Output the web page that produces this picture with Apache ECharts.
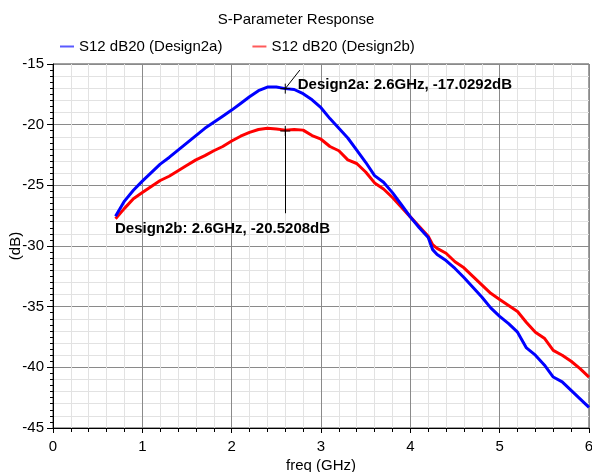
<!DOCTYPE html>
<html>
<head>
<meta charset="utf-8">
<script src="https://cdn.jsdelivr.net/npm/echarts@6/dist/echarts.min.js"></script>
<style>html,body{margin:0;padding:0;background:#fff}#c{width:592px;height:472px}</style>
</head>
<body>
<div id="c"></div>
<script>
const freq = [0.7,0.8,0.9,1.0,1.1,1.2,1.3,1.4,1.5,1.6,1.7,1.8,1.9,2.0,2.1,2.2,2.3,2.4,2.5,2.6,2.7,2.8,2.9,3.0,3.1,3.2,3.3,3.4,3.5,3.6,3.7,3.8,3.9,4.0,4.1,4.2,4.25,4.3,4.4,4.5,4.6,4.7,4.8,4.9,5.0,5.1,5.2,5.3,5.4,5.5,5.6,5.7,5.8,5.9,6.0];
const design2a = [-27.55,-26.3,-25.4,-24.65,-23.95,-23.25,-22.7,-22.1,-21.5,-20.9,-20.3,-19.8,-19.3,-18.8,-18.25,-17.7,-17.2,-16.9,-16.9,-17.03,-17.1,-17.45,-17.95,-18.6,-19.5,-20.3,-21.1,-22.1,-23.1,-24.2,-24.75,-25.6,-26.6,-27.6,-28.5,-29.3,-30.3,-30.7,-31.2,-31.85,-32.6,-33.4,-34.2,-35.1,-35.8,-36.4,-37.1,-38.4,-39.0,-39.8,-40.8,-41.2,-41.9,-42.6,-43.3];
const design2b = [-27.75,-26.9,-26.1,-25.6,-25.1,-24.6,-24.25,-23.8,-23.35,-22.9,-22.55,-22.15,-21.8,-21.35,-20.95,-20.63,-20.4,-20.3,-20.35,-20.45,-20.4,-20.45,-20.9,-21.2,-21.8,-22.15,-22.9,-23.2,-23.9,-24.8,-25.3,-26.0,-26.8,-27.6,-28.4,-29.2,-29.9,-30.2,-30.6,-31.3,-31.8,-32.5,-33.2,-33.9,-34.4,-34.9,-35.4,-36.3,-37.1,-37.6,-38.6,-39.0,-39.5,-40.1,-40.8];
const xTicks = [0,1,2,3,4,5,6];
const yTicks = [-45,-40,-35,-30,-25,-20,-15];
const seriesNames = ['S12 dB20 (Design2a)','S12 dB20 (Design2b)'];
const markerFreq = 2.6;
const markerA = -17.0292;
const markerB = -20.5208;

const FONT = 'Liberation Sans, Arial, sans-serif';
const pairs = (ys) => freq.map((f, i) => [f, ys[i]]);
const cross = 'path://M0,5L10,5M5,0L5,10';

const chart = echarts.init(document.getElementById('c'), null, {renderer: 'canvas'});
chart.setOption({
  animation: false,
  backgroundColor: '#fff',
  textStyle: {fontFamily: FONT},
  title: {
    text: 'S-Parameter Response', left: 'center', top: 7,
    textStyle: {fontFamily: FONT, fontSize: 15, fontWeight: 'normal', color: '#000'}
  },
  legend: {
    left: 55, top: 34, itemGap: 30, itemWidth: 14, itemHeight: 2,
    icon: 'rect',
    textStyle: {fontFamily: FONT, fontSize: 15, color: '#000'},
    data: [
      {name: seriesNames[0], itemStyle: {color: '#5a5aff'}},
      {name: seriesNames[1], itemStyle: {color: '#ff5a5a'}}
    ]
  },
  grid: {left: 53, right: 3, top: 64, bottom: 44, show: true, borderColor: '#404040', borderWidth: 1,
    outerBoundsMode: 'none', containLabel: false},
  xAxis: [{
    type: 'value', min: 0, max: 6, interval: 1,
    name: 'freq (GHz)', nameLocation: 'middle', nameGap: 30, nameMoveOverlap: false,
    nameTextStyle: {fontFamily: FONT, fontSize: 15, color: '#000'},
    axisLine: {show: true, lineStyle: {color: '#000', width: 1}},
    axisTick: {show: true, length: 5, lineStyle: {color: '#000'}},
    minorTick: {show: true, splitNumber: 5, length: 4, lineStyle: {color: '#000'}},
    axisLabel: {fontFamily: FONT, fontSize: 15, color: '#000', margin: 11,
      formatter: v => xTicks.includes(v) ? String(v) : ''},
    splitLine: {show: true, lineStyle: {color: '#8a8a8a', width: 1}},
    minorSplitLine: {show: true, lineStyle: {color: '#e2e2e2', width: 1}}
  }],
  yAxis: [{
    type: 'value', min: -45, max: -15, interval: 5,
    name: '(dB)', nameLocation: 'middle', nameGap: 30, nameRotate: 90, nameMoveOverlap: false,
    nameTextStyle: {fontFamily: FONT, fontSize: 15, color: '#000'},
    axisLine: {show: true, lineStyle: {color: '#000', width: 1}},
    axisTick: {show: true, length: 6, lineStyle: {color: '#000'}},
    minorTick: {show: false, splitNumber: 5},
    axisLabel: {fontFamily: FONT, fontSize: 15, color: '#000', margin: 9,
      formatter: v => yTicks.includes(v) ? String(v) : ''},
    splitLine: {show: true, lineStyle: {color: '#8a8a8a', width: 1}},
    minorSplitLine: {show: true, lineStyle: {color: '#e2e2e2', width: 1}}
  }, {
    type: 'value', min: -45, max: -15, interval: 0.5, position: 'left', offset: 0,
    axisLine: {show: false},
    axisTick: {show: true, length: 3, lineStyle: {color: '#000'}},
    axisLabel: {show: false},
    splitLine: {show: false}
  }],
  series: [{
    name: seriesNames[0], type: 'line', data: pairs(design2a), yAxisIndex: 0,
    showSymbol: false, symbol: 'none', z: 3,
    lineStyle: {color: '#0000ff', width: 3}, itemStyle: {color: '#0000ff'},
    markPoint: {
      silent: true, animation: false,
      data: [
        {coord: [markerFreq, markerA], symbol: cross, symbolSize: 10,
         itemStyle: {color: 'none', borderColor: '#000', borderWidth: 1}, label: {show: false}},
        {coord: [2.74, -16.7], symbol: 'circle', symbolSize: 0,
         label: {show: true, position: 'right', distance: 0, color: '#000', fontFamily: FONT,
           fontSize: 15, fontWeight: 'bold',
           formatter: 'Design2a: ' + markerFreq + 'GHz, ' + markerA + 'dB'}}
      ]
    },
    markLine: {
      silent: true, animation: false, symbol: 'none',
      lineStyle: {color: '#000', width: 1, type: 'solid'}, label: {show: false},
      data: [[{coord: [markerFreq, markerA]}, {coord: [2.763, -15.5]}]]
    }
  }, {
    name: seriesNames[1], type: 'line', data: pairs(design2b), yAxisIndex: 0,
    showSymbol: false, symbol: 'none', z: 2,
    lineStyle: {color: '#ff0000', width: 3}, itemStyle: {color: '#ff0000'},
    markPoint: {
      silent: true, animation: false,
      data: [
        {coord: [markerFreq, markerB], symbol: cross, symbolSize: 10,
         itemStyle: {color: 'none', borderColor: '#000', borderWidth: 1}, label: {show: false}},
        {coord: [0.694, -28.6], symbol: 'circle', symbolSize: 0,
         label: {show: true, position: 'right', distance: 0, color: '#000', fontFamily: FONT,
           fontSize: 15, fontWeight: 'bold',
           formatter: 'Design2b: ' + markerFreq + 'GHz, ' + markerB + 'dB'}}
      ]
    },
    markLine: {
      silent: true, animation: false, symbol: 'none',
      lineStyle: {color: '#000', width: 1, type: 'solid'}, label: {show: false},
      data: [[{coord: [markerFreq, markerB]}, {coord: [markerFreq, -27.3]}]]
    }
  }]
});
</script>
</body>
</html>
